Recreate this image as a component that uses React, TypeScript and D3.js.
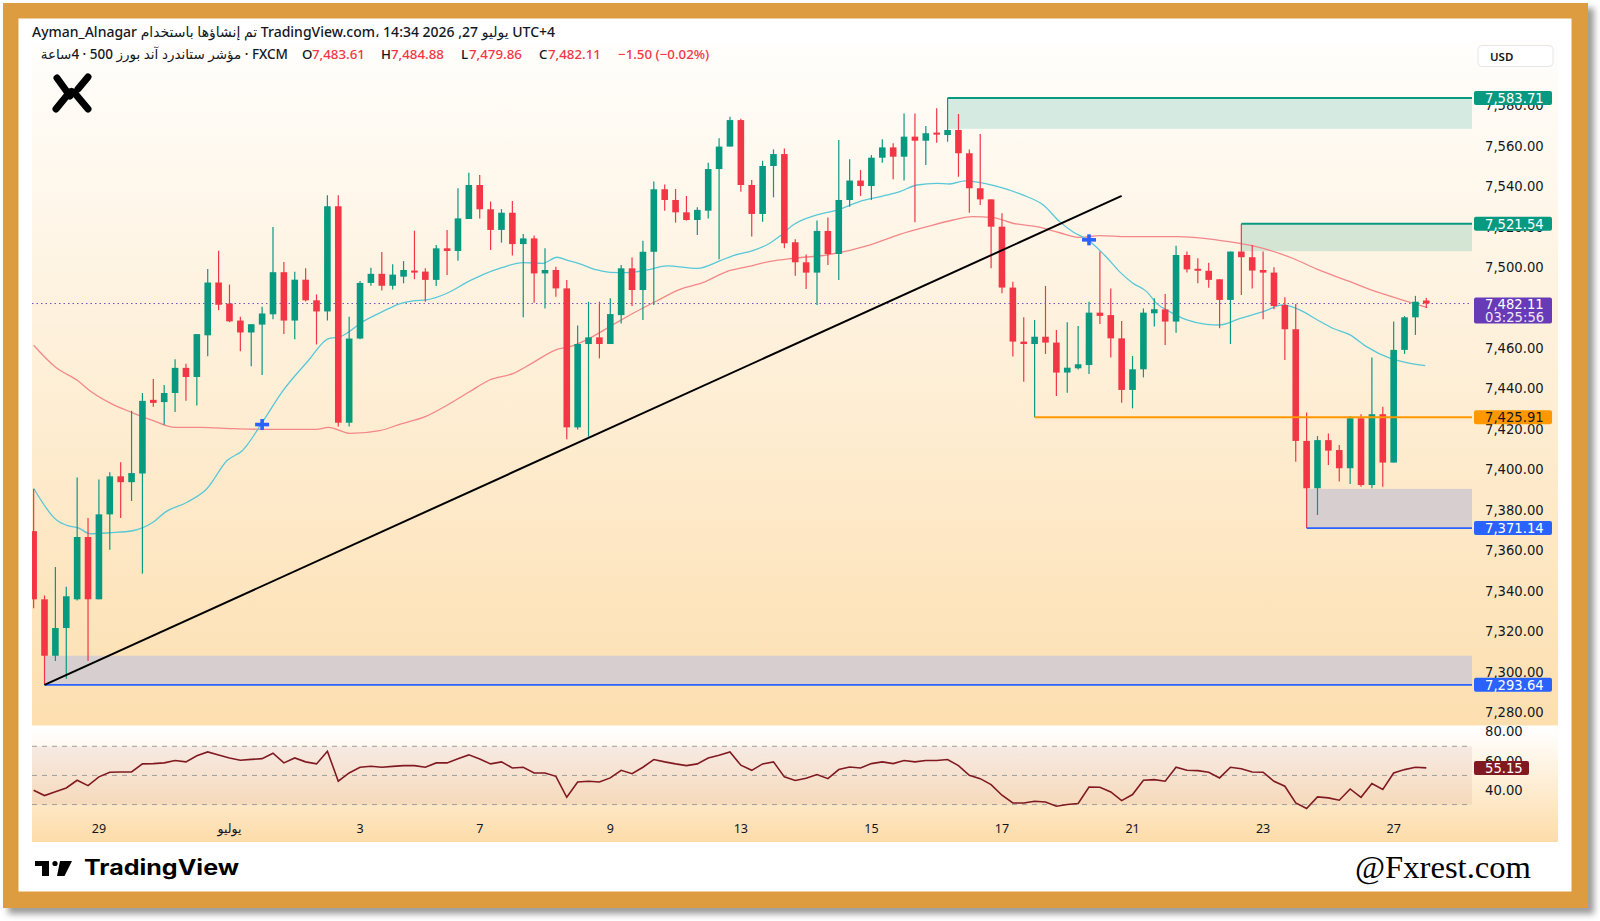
import React from 'react';
import * as d3 from 'd3';

// S&P 500 (FXCM) 4h candles, bar 0 = 26 Jun, last bar = 27 Jul 14:00
const opens = [
  7369.6, 7335.9, 7308.0, 7321.7, 7335.9, 7366.7, 7335.9, 7377.9, 7396.7, 7393.8,
  7398.1, 7434.5, 7433.4, 7437.9, 7450.3, 7445.8, 7466.4, 7492.5, 7482.1, 7473.7,
  7467.8, 7471.7, 7476.8, 7497.6, 7473.7, 7493.9, 7483.7, 7478.2, 7530.2, 7423.2,
  7464.8, 7492.3, 7496.8, 7490.9, 7495.4, 7498.4, 7497.9, 7493.8, 7509.4, 7508.1,
  7523.9, 7540.7, 7528.7, 7518.5, 7527.0, 7511.5, 7514.3, 7497.0, 7498.7, 7489.6,
  7420.9, 7462.1, 7465.4, 7462.1, 7476.4, 7499.5, 7488.8, 7507.7, 7538.6, 7533.3,
  7527.2, 7523.4, 7528.0, 7548.6, 7559.7, 7572.8, 7540.7, 7526.4, 7550.1, 7556.0,
  7512.4, 7502.5, 7497.4, 7518.0, 7506.6, 7533.3, 7542.9, 7540.2, 7554.2, 7559.3,
  7554.7, 7564.6, 7562.6, 7566.6, 7565.4, 7567.9, 7556.4, 7539.1, 7533.6, 7520.1,
  7490.0, 7463.3, 7462.1, 7465.7, 7462.8, 7448.0, 7450.1, 7451.7, 7477.6, 7476.4,
  7464.9, 7439.4, 7449.6, 7477.3, 7479.2, 7473.2, 7506.1, 7499.3, 7498.3, 7494.1,
  7483.9, 7507.8, 7505.0, 7498.7, 7497.4, 7481.4, 7469.4, 7414.2, 7390.8, 7414.6,
  7409.7, 7400.7, 7425.4, 7392.4, 7427.4, 7403.5, 7459.2, 7475.3, 7483.61,
];
const highs = [
  7390.4, 7337.8, 7351.9, 7342.1, 7396.1, 7376.1, 7395.1, 7398.7, 7403.6, 7429.1,
  7437.9, 7444.8, 7441.9, 7454.6, 7452.3, 7467.0, 7499.2, 7508.2, 7491.5, 7475.6,
  7471.9, 7480.5, 7520.0, 7502.7, 7497.8, 7499.6, 7486.6, 7535.7, 7535.7, 7475.6,
  7493.3, 7499.8, 7507.6, 7501.5, 7503.1, 7518.1, 7499.5, 7511.0, 7518.5, 7539.1,
  7546.8, 7545.6, 7532.5, 7528.8, 7532.8, 7516.5, 7515.7, 7509.4, 7500.3, 7493.8,
  7471.2, 7483.0, 7483.0, 7484.7, 7501.2, 7504.9, 7513.2, 7542.4, 7541.0, 7538.7,
  7535.3, 7529.7, 7551.7, 7563.8, 7574.5, 7573.5, 7543.2, 7552.7, 7558.3, 7558.8,
  7513.9, 7506.4, 7523.1, 7524.7, 7562.9, 7553.4, 7548.1, 7555.5, 7563.3, 7561.3,
  7576.1, 7576.1, 7569.9, 7578.6, 7583.71, 7575.8, 7558.3, 7565.9, 7533.6, 7526.7,
  7492.9, 7475.3, 7474.0, 7490.8, 7469.0, 7472.8, 7471.0, 7483.0, 7507.8, 7489.6,
  7473.5, 7456.2, 7479.7, 7484.7, 7486.8, 7510.7, 7507.8, 7504.5, 7502.3, 7494.1,
  7507.8, 7521.54, 7511.0, 7507.8, 7500.0, 7485.2, 7481.9, 7428.3, 7416.6, 7417.9,
  7412.2, 7426.5, 7427.4, 7455.4, 7431.1, 7473.2, 7475.9, 7485.9, 7484.88,
];
const lows = [
  7331.5, 7293.64, 7305.4, 7296.6, 7335.3, 7305.4, 7335.9, 7360.4, 7376.1, 7384.5,
  7348.6, 7431.1, 7422.2, 7428.5, 7434.0, 7431.7, 7456.0, 7478.8, 7472.9, 7458.5,
  7451.1, 7446.8, 7474.3, 7467.0, 7464.4, 7483.1, 7461.9, 7473.7, 7421.3, 7421.3,
  7464.4, 7490.9, 7488.6, 7489.0, 7492.1, 7494.1, 7483.0, 7490.8, 7496.2, 7503.3,
  7523.9, 7524.2, 7508.6, 7512.2, 7505.8, 7475.3, 7482.5, 7479.7, 7485.5, 7415.0,
  7419.9, 7416.3, 7455.0, 7462.1, 7472.3, 7480.9, 7474.0, 7481.4, 7528.0, 7522.1,
  7523.1, 7516.0, 7524.2, 7504.0, 7559.7, 7537.4, 7515.2, 7522.6, 7534.6, 7509.4,
  7495.9, 7489.3, 7481.4, 7501.2, 7493.8, 7530.0, 7535.3, 7533.3, 7551.7, 7543.5,
  7542.9, 7522.3, 7550.6, 7561.6, 7562.1, 7544.8, 7527.0, 7530.8, 7499.5, 7487.2,
  7455.9, 7443.5, 7425.91, 7457.2, 7436.4, 7438.0, 7449.5, 7447.3, 7472.0, 7455.4,
  7433.1, 7430.3, 7445.6, 7470.7, 7461.6, 7467.7, 7497.4, 7492.1, 7489.9, 7469.9,
  7462.1, 7486.3, 7489.6, 7474.3, 7479.3, 7454.2, 7403.9, 7371.14, 7377.6, 7402.3,
  7394.1, 7392.9, 7391.6, 7390.8, 7391.6, 7403.5, 7457.2, 7466.6, 7479.86,
];
const closes = [
  7335.9, 7308.0, 7321.7, 7337.4, 7366.7, 7335.9, 7377.9, 7396.7, 7393.8, 7398.3,
  7434.0, 7433.0, 7437.9, 7450.3, 7445.8, 7467.0, 7492.5, 7481.5, 7473.3, 7467.8,
  7471.9, 7477.2, 7497.6, 7473.7, 7493.9, 7483.7, 7478.2, 7530.2, 7423.2, 7464.8,
  7492.3, 7496.8, 7490.9, 7496.4, 7498.7, 7497.4, 7493.8, 7509.4, 7508.1, 7524.2,
  7540.7, 7528.7, 7518.5, 7527.0, 7511.5, 7514.3, 7497.0, 7498.7, 7489.6, 7420.9,
  7462.1, 7465.4, 7462.1, 7476.9, 7499.5, 7488.8, 7507.7, 7538.6, 7533.3, 7527.2,
  7523.4, 7528.4, 7548.6, 7559.7, 7572.8, 7540.7, 7526.4, 7550.1, 7556.0, 7511.9,
  7502.5, 7497.4, 7518.0, 7506.6, 7533.3, 7542.9, 7540.2, 7554.2, 7559.3, 7554.7,
  7564.6, 7562.6, 7566.3, 7565.6, 7567.9, 7556.4, 7539.1, 7533.6, 7520.1, 7490.0,
  7463.3, 7462.1, 7465.7, 7462.8, 7448.0, 7450.4, 7452.1, 7477.6, 7476.0, 7464.9,
  7439.4, 7449.6, 7477.6, 7479.3, 7473.2, 7506.1, 7499.0, 7498.3, 7493.8, 7483.9,
  7507.8, 7505.0, 7498.4, 7497.4, 7480.9, 7469.4, 7414.2, 7390.8, 7414.6, 7409.4,
  7400.7, 7425.4, 7392.4, 7427.4, 7403.5, 7459.2, 7475.3, 7483.0, 7482.11,
];

// RSI(14), one value per bar
const rsiValues = [
  39.8, 36.2, 38.8, 41.4, 46.7, 43.0, 49.0, 52.2, 52.3, 52.4,
  57.9, 58.1, 58.6, 60.2, 59.3, 63.5, 66.1, 64.0, 62.0, 60.4,
  61.0, 61.5, 65.2, 58.6, 62.0, 59.3, 57.9, 66.6, 46.0, 51.7,
  55.6, 56.3, 55.6, 56.2, 56.7, 56.7, 55.6, 58.6, 58.6, 61.5,
  64.1, 61.3, 57.9, 59.3, 55.1, 55.6, 51.7, 51.7, 49.4, 35.0,
  45.5, 46.0, 45.5, 48.3, 53.5, 51.2, 55.6, 60.9, 59.3, 57.9,
  56.7, 57.9, 62.0, 63.8, 66.1, 57.0, 53.5, 57.9, 59.3, 49.0,
  46.5, 48.0, 50.6, 47.8, 54.0, 55.8, 55.1, 58.1, 59.3, 58.1,
  60.2, 59.3, 60.2, 60.2, 60.9, 56.7, 50.1, 47.8, 43.7, 36.4,
  31.1, 31.1, 32.3, 31.8, 28.9, 30.0, 30.7, 42.1, 41.9, 38.7,
  32.7, 36.9, 46.7, 47.1, 46.0, 55.6, 53.5, 53.3, 52.2, 48.3,
  55.6, 54.6, 52.4, 52.2, 46.0, 42.6, 31.1, 27.3, 35.3, 34.6,
  33.0, 40.7, 35.0, 44.4, 40.3, 51.7, 54.0, 55.6, 55.15,
];

// Moving averages as [bar, value]
const fastMa: [number, number][] = [
  [0, 7390.8], [2.1, 7375.1], [3.2, 7372.2], [4.1, 7371.2], [5.2, 7368.3], [7, 7368.8],
  [9.1, 7369.8], [11, 7374.1], [12.1, 7379.0], [14.1, 7383.9], [15.9, 7390.4], [17.8, 7404.6],
  [19.2, 7409.5], [21, 7423.2], [22.9, 7438.9], [25.2, 7453.6], [27.1, 7464.8], [28.2, 7465.8],
  [30.3, 7473.3], [32.1, 7478.2], [33.7, 7482.1], [34.9, 7483.4], [36.1, 7483.9], [38, 7487.2],
  [40.1, 7493.4], [41, 7495.7], [43.1, 7500.0], [45, 7502.3], [46.8, 7502.0], [48.1, 7505.0],
  [49, 7503.6], [50.2, 7501.7], [51.8, 7498.7], [53, 7497.5], [54.5, 7497.4], [56.4, 7498.7],
  [58.2, 7500.7], [61, 7499.5], [63.1, 7503.3], [64.3, 7505.8], [66.1, 7508.3], [67.7, 7512.0],
  [68.6, 7515.5], [69.8, 7520.9], [72, 7525.9], [74.1, 7528.7], [75.9, 7532.5], [78.1, 7535.3],
  [79.6, 7537.4], [81.2, 7540.7], [83, 7541.5], [84.2, 7541.2], [85.6, 7542.7], [87, 7541.9],
  [88.8, 7539.6], [90.9, 7535.8], [92.8, 7530.8], [94.3, 7522.6], [95.5, 7517.6], [96.9, 7513.5],
  [98.7, 7504.5], [99.8, 7497.9], [101, 7492.3], [102.3, 7488.0], [103.2, 7482.2], [104.4, 7478.1],
  [106, 7474.0], [107.8, 7471.8], [109, 7471.5], [110.9, 7474.8], [113, 7478.1], [114.8, 7481.4],
  [116.4, 7478.9], [118, 7474.0], [119.4, 7469.9], [121, 7466.6], [122.5, 7460.8], [124.7, 7455.0],
  [126.2, 7452.9], [127.9, 7451.4],
];
const slowMa: [number, number][] = [
  [0, 7461.5], [2, 7450.7], [4.1, 7443.8], [5.2, 7438.9], [7, 7433.0], [9.1, 7428.1],
  [11, 7424.2], [13, 7420.9], [15.3, 7420.9], [18.3, 7420.3], [21.4, 7419.9], [26, 7419.9],
  [27.1, 7420.9], [29.1, 7417.9], [31.8, 7419.3], [33.7, 7422.5], [36.1, 7426.5], [38.3, 7432.8],
  [40.1, 7438.6], [41.9, 7444.3], [44.1, 7447.6], [45.9, 7452.9], [48.1, 7459.5], [49.3, 7460.8],
  [50.9, 7464.4], [53.2, 7471.5], [55.1, 7477.3], [57.3, 7483.5], [59.4, 7489.1], [61.5, 7492.4],
  [63.7, 7497.9], [65.6, 7500.3], [67.7, 7503.0], [69.8, 7504.5], [72.9, 7506.1], [76.9, 7511.1],
  [79.6, 7516.3], [82.1, 7520.1], [84.5, 7523.4], [86.3, 7525.1], [88.2, 7524.6], [90, 7521.8],
  [92.2, 7520.1], [94.3, 7517.1], [96.2, 7514.8], [98, 7515.7], [100.5, 7515.2], [103.5, 7515.2],
  [105.1, 7515.2], [108.8, 7513.5], [112.1, 7510.6], [115.7, 7504.5], [118, 7499.0], [121, 7492.9],
  [123.1, 7488.5], [125.6, 7484.2], [128.1, 7480.1],
];

const priceTicks = [7280, 7300, 7320, 7340, 7360, 7380, 7400, 7420, 7440, 7460, 7480, 7500, 7520, 7540, 7560, 7580];
const rsiTicks = [80, 60, 40];
const rsiLevels = [70, 50, 30];
const dayTickBars = [6, 18, 30, 41, 53, 65, 77, 89, 101, 113, 125];
const dayTickLabels = ['29', 'يوليو', '3', '7', '9', '13', '15', '17', '21', '23', '27'];

// Drawn zones: start bar, top and bottom price
const zoneStartBars = [84, 111, 1, 117];
const zoneTops = [7583.71, 7521.54, 7308.0, 7390.5];
const zoneBottoms = [7568.5, 7508.0, 7293.64, 7371.14];
const zoneKinds = ['supply', 'supply', 'demand', 'demand'];
const orangeLevel = 7425.91;
const orangeStartBar = 92;
const trendBars = [1, 100];
const trendPrices = [7293.64, 7535.3];
const crossBars = [21, 97];
const crossPrices = [7422.3, 7513.6];
const lastPrice = 7482.11;
const countdown = '03:25:56';
const rsiLast = 55.15;

const PL = 32;
const PR = 1472;
const AX = 1485;
const GREEN = '#089981';
const RED = '#F23645';
const fmt = d3.format(',.2f');
const AXIS_FONT = "'DejaVu Sans', Verdana, sans-serif";
const UI_FONT = "'Noto Sans', 'DejaVu Sans', sans-serif";
const AXIS_SIZE = 13.2;

export default function App() {
  const x = d3.scaleLinear().domain([-0.15, 132.2]).range([PL, PR]);
  const y = d3.scaleLinear().domain([7280, 7600]).range([712.4, 65.05]);
  const yr = d3.scaleLinear().domain([40, 80]).range([790, 731.7]);

  const maLine = d3
    .line<[number, number]>()
    .x((d) => x(d[0]))
    .y((d) => y(d[1]))
    .curve(d3.curveMonotoneX);
  const rsiLine = d3
    .line<number>()
    .x((_, i) => x(i))
    .y((d) => yr(d));

  const bodyW = 6.6;

  const axisBoxes = [
    { v: 7583.71, fill: GREEN, text: '#fff' },
    { v: 7521.54, fill: GREEN, text: '#fff' },
    { v: orangeLevel, fill: '#FF9800', text: '#131722' },
    { v: 7371.14, fill: '#2962FF', text: '#fff' },
    { v: 7293.64, fill: '#2962FF', text: '#fff' },
  ];

  return (
    <svg
      width={1600}
      height={921}
      style={{ position: 'absolute', left: 0, top: 0, display: 'block' }}
      xmlns="http://www.w3.org/2000/svg"
    >
      <defs>
        <linearGradient id="paneBg" x1="0" y1="0" x2="0" y2="1">
          <stop offset="0" stopColor="#FFFEFC" />
          <stop offset="1" stopColor="#FDDFB0" />
        </linearGradient>
        <linearGradient id="rsiBg" x1="0" y1="0" x2="0" y2="1">
          <stop offset="0" stopColor="#FFFFFF" />
          <stop offset="1" stopColor="#FDDCA9" />
        </linearGradient>
        <filter id="frameShadow" x="-5%" y="-5%" width="110%" height="110%">
          <feGaussianBlur stdDeviation="3" />
        </filter>
        <clipPath id="plotClip">
          <rect x={PL} y={42} width={PR - PL} height={684} />
        </clipPath>
      </defs>

      {/* frame */}
      <rect x={0} y={0} width={1600} height={921} fill="#ffffff" />
      <rect x={8} y={8} width={1586} height={906} fill="#7a7a7a" opacity={0.75} filter="url(#frameShadow)" />
      <rect x={3} y={3} width={1585} height={905} fill="#DE9C40" />
      <rect x={18.5} y={18.5} width={1553} height={873} fill="#ffffff" />

      {/* panes */}
      <rect x={PL} y={42} width={1558 - PL} height={683.5} fill="url(#paneBg)" />
      <rect x={PL} y={727.5} width={1558 - PL} height={114.5} fill="url(#rsiBg)" />

      {/* header */}
      <text x={32} y={37} fontFamily={UI_FONT} fontSize={14} fontWeight={500} fill="#131722">
        {'Ayman_Alnagar تم إنشاؤها باستخدام TradingView.com، يوليو 27, 2026 14:34 UTC+4'}
      </text>
      <text x={288} y={58.5} textAnchor="end" fontFamily={UI_FONT} fontSize={13.5} fontWeight={500} fill="#131722">
        {'\u202BFXCM · مؤشر ستاندرد آند بورز 500 · 4ساعة\u202C'}
      </text>
      <g fontFamily={UI_FONT} fontSize={13.3} fontWeight={500}>
        <text x={302} y={58.5} fill="#131722">O</text>
        <text x={312} y={58.5} fill={RED}>{fmt(opens[opens.length - 1])}</text>
        <text x={381} y={58.5} fill="#131722">H</text>
        <text x={391} y={58.5} fill={RED}>{fmt(highs[highs.length - 1])}</text>
        <text x={461} y={58.5} fill="#131722">L</text>
        <text x={469} y={58.5} fill={RED}>{fmt(lows[lows.length - 1])}</text>
        <text x={539} y={58.5} fill="#131722">C</text>
        <text x={548} y={58.5} fill={RED}>{fmt(closes[closes.length - 1])}</text>
        <text x={618} y={58.5} fill={RED}>
          {'−' + (opens[opens.length - 1] - closes[closes.length - 1]).toFixed(2) + ' (−0.02%)'}
        </text>
      </g>

      {/* brand mark */}
      <g stroke="#000" strokeWidth={7} strokeLinecap="round" strokeLinejoin="round" fill="none">
        <path d="M57,78 L70,96" />
        <path d="M88,77 L78,89" />
        <path d="M56,109 L69,93 Q72,89.5 75,93.5 L88,109" />
      </g>

      <g clipPath="url(#plotClip)">
        {/* zones */}
        {zoneStartBars.map((b, k) => (
          <rect
            key={'z' + k}
            x={x(b)}
            y={y(zoneTops[k])}
            width={PR - x(b)}
            height={y(zoneBottoms[k]) - y(zoneTops[k])}
            fill={zoneKinds[k] === 'supply' ? 'rgba(8,153,129,0.17)' : '#D7CED0'}
          />
        ))}

        {/* current price line */}
        <line x1={PL} x2={PR} y1={y(lastPrice)} y2={y(lastPrice)} stroke="#6C4FC0" strokeWidth={1} strokeDasharray="1.5 3" />

        {/* moving averages */}
        <path d={maLine(slowMa) || ''} fill="none" stroke="#F4878A" strokeWidth={1.3} />
        <path d={maLine(fastMa) || ''} fill="none" stroke="#58C8D8" strokeWidth={1.3} />

        {/* candles */}
        {opens.map((o, i) => {
          const c = closes[i];
          const up = c >= o;
          const col = up ? GREEN : RED;
          const top = y(Math.max(o, c));
          const bot = y(Math.min(o, c));
          return (
            <g key={'c' + i}>
              <line x1={x(i)} x2={x(i)} y1={y(highs[i])} y2={y(lows[i])} stroke={col} strokeWidth={1.2} />
              <rect x={x(i) - bodyW / 2} y={top} width={bodyW} height={Math.max(1.2, bot - top)} fill={col} />
            </g>
          );
        })}

        {/* zone borders and levels */}
        <line x1={x(zoneStartBars[0])} x2={PR} y1={y(zoneTops[0])} y2={y(zoneTops[0])} stroke={GREEN} strokeWidth={2} />
        <line x1={x(zoneStartBars[1])} x2={PR} y1={y(zoneTops[1])} y2={y(zoneTops[1])} stroke={GREEN} strokeWidth={2} />
        <line x1={x(zoneStartBars[2])} x2={PR} y1={y(zoneBottoms[2])} y2={y(zoneBottoms[2])} stroke="#2962FF" strokeWidth={1.8} />
        <line x1={x(zoneStartBars[3])} x2={PR} y1={y(zoneBottoms[3])} y2={y(zoneBottoms[3])} stroke="#2962FF" strokeWidth={1.8} />
        <line x1={x(orangeStartBar)} x2={PR} y1={y(orangeLevel)} y2={y(orangeLevel)} stroke="#FF9800" strokeWidth={2} />

        {/* trend line */}
        <line
          x1={x(trendBars[0])}
          y1={y(trendPrices[0])}
          x2={x(trendBars[1])}
          y2={y(trendPrices[1])}
          stroke="#000"
          strokeWidth={2}
        />

        {/* crossover markers */}
        {crossBars.map((b, k) => (
          <g key={'x' + k} stroke="#2962FF" strokeWidth={3.6}>
            <line x1={x(b) - 7} x2={x(b) + 7} y1={y(crossPrices[k])} y2={y(crossPrices[k])} />
            <line x1={x(b)} x2={x(b)} y1={y(crossPrices[k]) - 5.5} y2={y(crossPrices[k]) + 5.5} />
          </g>
        ))}
      </g>

      {/* price axis */}
      <g fontFamily={AXIS_FONT} fontSize={AXIS_SIZE} fill="#131722">
        {priceTicks.map((t) => (
          <text key={'t' + t} x={AX} y={y(t)} dy="0.36em">
            {fmt(t)}
          </text>
        ))}
      </g>
      {axisBoxes.map((b) => (
        <g key={'b' + b.v}>
          <rect x={1474} y={y(b.v) - 7} width={78} height={14} rx={2} fill={b.fill} />
          <text x={AX} y={y(b.v)} dy="0.36em" fontFamily={AXIS_FONT} fontSize={AXIS_SIZE} fill={b.text}>
            {fmt(b.v)}
          </text>
        </g>
      ))}
      <rect x={1474} y={y(lastPrice) - 6} width={78} height={26} rx={2} fill="#673AB7" />
      <text x={AX} y={y(lastPrice) + 1} dy="0.36em" fontFamily={AXIS_FONT} fontSize={AXIS_SIZE} fill="#fff">
        {fmt(lastPrice)}
      </text>
      <text x={AX} y={y(lastPrice) + 13.5} dy="0.36em" fontFamily={AXIS_FONT} fontSize={AXIS_SIZE} fill="#EDE7F6">
        {countdown}
      </text>

      {/* USD unit */}
      <rect x={1478} y={45.5} width={75} height={21} rx={4} fill="#ffffff" stroke="#E6E6E6" />
      <text x={1490} y={56.5} dy="0.36em" fontFamily={UI_FONT} fontSize={11.5} fontWeight={600} fill="#131722">
        USD
      </text>

      {/* RSI pane */}
      <rect x={PL} y={yr(70)} width={PR - PL} height={yr(30) - yr(70)} fill="rgba(140,40,50,0.07)" />
      {rsiLevels.map((lv) => (
        <line key={'l' + lv} x1={PL} x2={PR} y1={yr(lv)} y2={yr(lv)} stroke="#9E9E9E" strokeWidth={1} strokeDasharray="5 5" />
      ))}
      <path d={rsiLine(rsiValues) || ''} fill="none" stroke="#801922" strokeWidth={1.6} />
      <g fontFamily={AXIS_FONT} fontSize={AXIS_SIZE} fill="#131722">
        {rsiTicks.map((t) => (
          <text key={'r' + t} x={AX} y={yr(t)} dy="0.36em">
            {t.toFixed(2)}
          </text>
        ))}
      </g>
      <rect x={1474} y={yr(rsiLast) - 7} width={55} height={14} rx={2} fill="#801922" />
      <text x={AX} y={yr(rsiLast)} dy="0.36em" fontFamily={AXIS_FONT} fontSize={AXIS_SIZE} fill="#fff">
        {rsiLast.toFixed(2)}
      </text>

      {/* time axis */}
      <g fontFamily={UI_FONT} fontSize={12.5} fill="#131722" textAnchor="middle">
        {dayTickBars.map((b, k) => (
          <text key={'d' + k} x={x(b)} y={828.6} dy="0.36em">
            {dayTickLabels[k]}
          </text>
        ))}
      </g>

      {/* TradingView logo */}
      <g fill="#000">
        <rect x={35} y={861} width={14} height={5} />
        <rect x={42} y={861} width={7} height={15} />
        <circle cx={55} cy={863.5} r={2.6} />
        <polygon points="60,861 72,861 64.5,876 57,876" />
      </g>
      <text
        x={84}
        y={875}
        fontFamily="Inter, 'Open Sans', sans-serif"
        fontSize={21}
        fontWeight={700}
        fill="#000"
        textLength={155}
        lengthAdjust="spacingAndGlyphs"
      >
        TradingView
      </text>

      {/* site tag */}
      <text
        x={1355}
        y={878}
        fontFamily="'Liberation Serif', 'DejaVu Serif', serif"
        fontSize={31}
        fill="#000"
        textLength={176}
        lengthAdjust="spacingAndGlyphs"
      >
        @Fxrest.com
      </text>
    </svg>
  );
}
